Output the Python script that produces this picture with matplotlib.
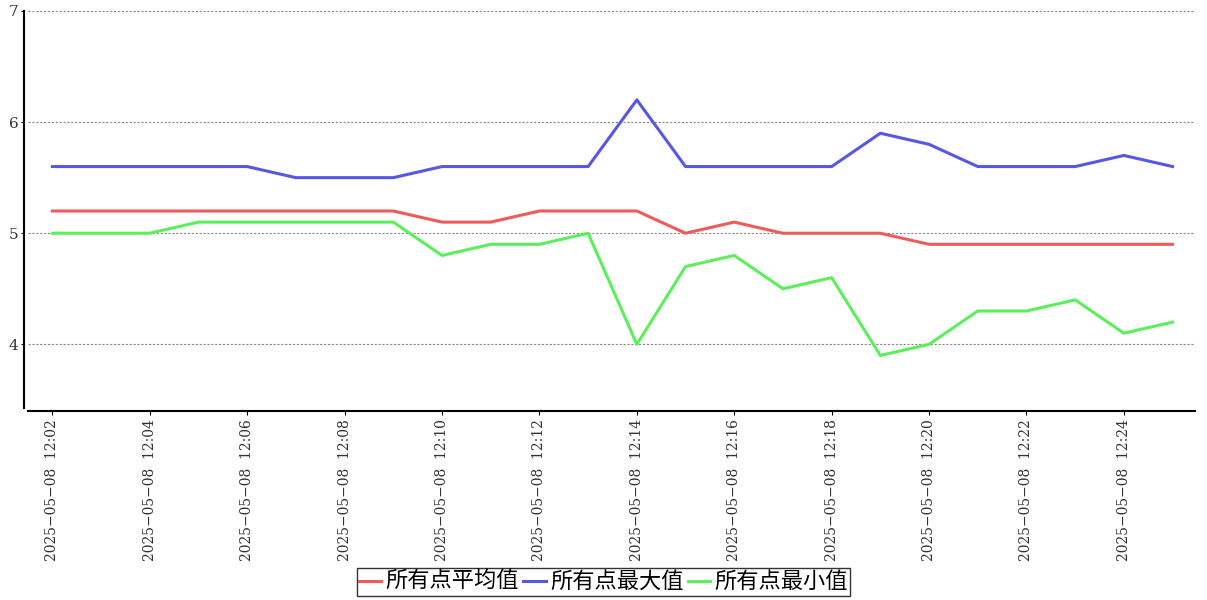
import matplotlib
matplotlib.use('Agg')
import matplotlib.pyplot as plt

# 数据 (12:02 ~ 12:25, 每分钟一个点)
minutes = list(range(2, 26))
avg_vals = [5.2, 5.2, 5.2, 5.2, 5.2, 5.2, 5.2, 5.2, 5.1, 5.1, 5.2, 5.2,
            5.2, 5.0, 5.1, 5.0, 5.0, 5.0, 4.9, 4.9, 4.9, 4.9, 4.9, 4.9]
max_vals = [5.6, 5.6, 5.6, 5.6, 5.6, 5.5, 5.5, 5.5, 5.6, 5.6, 5.6, 5.6,
            6.2, 5.6, 5.6, 5.6, 5.6, 5.9, 5.8, 5.6, 5.6, 5.6, 5.7, 5.6]
min_vals = [5.0, 5.0, 5.0, 5.1, 5.1, 5.1, 5.1, 5.1, 4.8, 4.9, 4.9, 5.0,
            4.0, 4.7, 4.8, 4.5, 4.6, 3.9, 4.0, 4.3, 4.3, 4.4, 4.1, 4.2]
tick_minutes = list(range(2, 26, 2))
tick_labels = ['2025\u221205\u221208  12:%02d' % m for m in tick_minutes]
series_names = ['所有点平均值', '所有点最大值', '所有点最小值']

plt.rcParams['font.family'] = ['DejaVu Serif', 'Noto Sans CJK SC']

fig = plt.figure(figsize=(12.07, 6.0), dpi=100)
ax = fig.add_axes([28 / 1207, 1 - 411 / 600, (1195 - 28) / 1207, (411 - 11) / 600])

# 先设置坐标轴线位置 (set_position 会重置刻度样式)
ax.spines['top'].set_visible(False)
ax.spines['right'].set_visible(False)
ax.spines['left'].set_position(('outward', 3))
ax.spines['left'].set_bounds(3.43, 7)
ax.spines['left'].set_linewidth(1.5)
ax.spines['bottom'].set_linewidth(1.5)

ax.plot(minutes, avg_vals, color='#ef5b5b', lw=2.2, label=series_names[0])
ax.plot(minutes, max_vals, color='#5757e6', lw=2.2, label=series_names[1])
ax.plot(minutes, min_vals, color='#5cef5c', lw=2.2, label=series_names[2])

ax.set_xlim(2 - 0.5, 25 + 0.46)
ax.set_ylim(3.4, 7)
ax.set_yticks([4, 5, 6, 7])
ax.set_xticks(tick_minutes)
ax.set_xticklabels(tick_labels, rotation=90, fontsize=10, color='#333333')
ax.tick_params(axis='y', labelsize=11, length=2, pad=2, labelcolor='#333333')
ax.tick_params(axis='x', length=3, pad=3)
ax.grid(axis='y', linestyle=(0, (2, 1.5)), color='#888888', lw=0.8)

leg = fig.legend(loc='lower center', bbox_to_anchor=(0.5, 0.0), ncol=3,
                 prop={'family': ['Noto Sans CJK SC'], 'size': 16},
                 handlelength=1.0, handletextpad=0.2, columnspacing=0.2,
                 borderpad=0.1, borderaxespad=0.2, fancybox=False)
leg.get_frame().set_edgecolor('black')
leg.get_frame().set_linewidth(1.0)

fig.savefig('out.png', dpi=100)
